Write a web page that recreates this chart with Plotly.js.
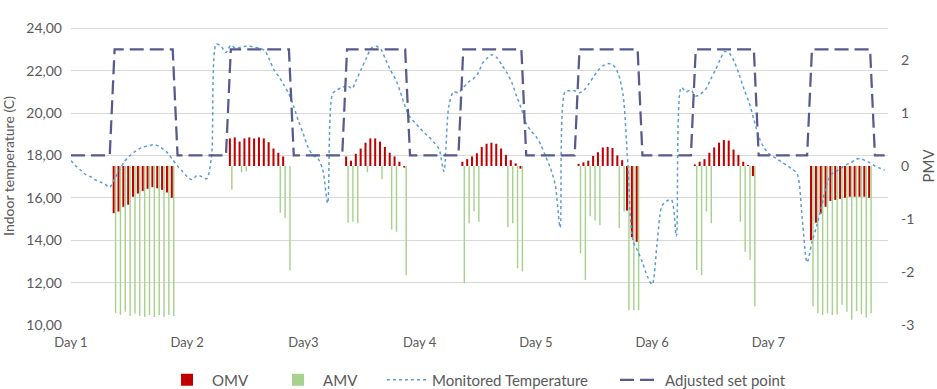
<!DOCTYPE html>
<html>
<head>
<meta charset="utf-8">
<script src="https://cdn.plot.ly/plotly-3.0.1.min.js"></script>
<style>
  html, body { margin: 0; padding: 0; background: #ffffff; }
  #chart { width: 937px; height: 389px; }
</style>
</head>
<body>
<div id="chart"></div>
<script>
// ---- Data ----
const dayLabels = ["Day 1", "Day 2", "Day3", "Day 4", "Day 5", "Day 6", "Day 7"];
const dayStartHours = [0, 24, 48, 72, 96, 120, 144];

// Monitored indoor temperature, one value per hour (hour 0 .. 168)
const monitoredTemperature = [
  17.75, 17.5, 17.3, 17.1, 17.0, 16.85, 16.75, 16.65, 16.5, 16.9, 17.3, 17.7, 17.95, 18.15, 18.3, 18.4, 18.45, 18.5, 18.45, 18.3, 18.1, 17.8, 17.5, 17.25,
  17.0, 16.85, 17.05, 17.0, 16.9, 17.9, 23.25, 23.15, 22.85, 23.2, 23.05, 23.1, 23.15, 23.15, 23.1, 23.05, 22.95, 22.5, 22.0, 21.7, 21.3, 20.9, 20.3, 19.6,
  19.0, 18.35, 18.0, 17.85, 17.3, 15.75, 20.9, 21.1, 21.2, 21.3, 21.15, 21.6, 22.1, 22.6, 23.05, 23.15, 23.0, 22.5, 22.0, 21.6, 21.0, 20.3, 19.8, 19.55,
  19.3, 19.05, 18.85, 18.6, 18.3, 17.25, 20.3, 21.0, 20.95, 21.2, 21.45, 21.6, 21.85, 22.35, 22.6, 22.75, 22.6, 22.25, 21.9, 21.45, 20.8, 20.2, 19.5, 19.15,
  18.9, 18.5, 17.95, 17.4, 16.6, 14.6, 21.0, 21.05, 21.05, 20.95, 21.1, 21.4, 21.75, 22.05, 22.25, 22.33, 22.25, 21.85, 20.85, 17.5, 14.0, 13.5, 12.95, 12.3,
  11.9, 13.8, 15.6, 15.85, 15.9, 14.2, 21.2, 21.0, 21.08, 20.8, 20.9, 21.1, 21.55, 22.0, 22.5, 22.9, 22.8, 22.4, 21.8, 21.1, 20.5, 19.7, 18.9, 18.4,
  18.1, 17.95, 17.8, 17.65, 17.5, 17.35, 17.1, 15.0, 12.95, 13.9, 14.7, 15.6, 16.6, 17.1, 17.25, 17.4, 17.55, 17.65, 17.8, 17.86, 17.75, 17.65, 17.5, 17.4,
  17.3
];

// Adjusted set point, one value per hour (hour 0 .. 168)
const adjustedSetPoint = [
  18,18,18,18,18,18,18,18,18,23,23,23,23,23,23,23,23,23,23,23,23,23,18,18,
  18,18,18,18,18,18,18,18,18,23,23,23,23,23,23,23,23,23,23,23,23,23,18,18,
  18,18,18,18,18,18,18,18,18,23,23,23,23,23,23,23,23,23,23,23,23,23,18,18,
  18,18,18,18,18,18,18,18,18,23,23,23,23,23,23,23,23,23,23,23,23,23,18,18,
  18,18,18,18,18,18,18,18,18,23,23,23,23,23,23,23,23,23,23,23,23,23,18,18,
  18,18,18,18,18,18,18,18,18,23,23,23,23,23,23,23,23,23,23,23,23,23,18,18,
  18,18,18,18,18,18,18,18,18,23,23,23,23,23,23,23,23,23,23,23,23,23,18,18,
  18
];

// Hours at which thermal votes were collected
const voteHours = [
  9,10,11,12,13,14,15,16,17,18,19,20,21,
  33,34,35,36,37,38,39,40,41,42,43,44,45,
  57,58,59,60,61,62,63,64,65,66,67,68,69,
  81,82,83,84,85,86,87,88,89,90,91,92,93,
  105,106,107,108,109,110,111,112,113,114,115,116,117,
  129,130,131,132,133,134,135,136,137,138,139,140,141,
  153,154,155,156,157,158,159,160,161,162,163,164,165
];

// OMV (red) on the PMV axis
const omv = [
  -0.89,-0.86,-0.77,-0.73,-0.58,-0.52,-0.47,-0.43,-0.40,-0.42,-0.45,-0.50,-0.60,
  0.52,0.54,0.46,0.52,0.54,0.52,0.54,0.52,0.45,0.33,0.25,0.18,0,
  0.18,0.10,0.23,0.33,0.44,0.52,0.52,0.46,0.36,0.25,0.18,0.08,-0.03,
  0.08,0.13,0.18,0.24,0.36,0.42,0.44,0.42,0.33,0.21,0.11,0.05,-0.05,
  0.04,0.07,0.10,0.19,0.26,0.35,0.36,0.34,0.20,0.11,-0.84,-1.34,-1.43,
  0.03,0.08,0.13,0.25,0.35,0.44,0.49,0.48,0.31,0.21,0.08,0.02,-0.19,
  -1.40,-1.07,-0.90,-0.77,-0.66,-0.64,-0.62,-0.60,-0.58,-0.58,-0.58,-0.58,-0.60
];

// AMV (green) on the PMV axis
const amv = [
  -2.78,-2.81,-2.75,-2.83,-2.79,-2.83,-2.85,-2.81,-2.85,-2.81,-2.85,-2.81,-2.83,
  -0.45,0,-0.12,-0.10,0,0,0,0,0,0,-0.88,-0.98,-1.97,
  -1.07,-1.05,-1.08,0,-0.12,0,0,-0.25,0,-1.20,-1.24,0,-2.06,
  -2.21,-1.08,-0.86,-1.05,0,0,0,0,0,-1.15,-1.08,-1.93,-1.99,
  -1.65,-2.15,-0.95,-1.03,-1.12,0,0,0,-1.17,-0.86,-2.72,-2.72,-2.72,
  -1.96,-2.06,-0.86,-1.08,0,0,0,0,0,-1.05,-1.62,-1.77,-2.65,
  -2.65,-2.78,-2.81,-2.78,-2.81,-2.80,-2.62,-2.75,-2.90,-2.74,-2.80,-2.86,-2.78
];

const tempTicks = [10, 12, 14, 16, 18, 20, 22, 24];
const pmvTicks = [-3, -2, -1, 0, 1, 2, 3];
const pmvTickText = ["-3", "-2", "-1", "0", "1", "2", "3"];

const hours = monitoredTemperature.map((_, i) => i);

// ---- Chart ----
const FONT = "Lato, 'Open Sans', sans-serif";
const GREY = "#595959";

const traces = [
  {
    name: "OMV", type: "bar", x: voteHours, y: omv,
    xaxis: "x", yaxis: "y", legend: "legend",
    marker: { color: "#C00000", line: { width: 0 } },
    width: 0.42, offset: -0.4
  },
  {
    name: "AMV", type: "bar", x: voteHours, y: amv,
    xaxis: "x", yaxis: "y", legend: "legend2",
    marker: { color: "#A9D18E", line: { width: 0 } },
    width: 0.3, offset: 0.06
  },
  {
    name: "Monitored Temperature", type: "scatter", mode: "lines",
    x: hours, y: monitoredTemperature,
    xaxis: "x", yaxis: "y2", legend: "legend3",
    line: { color: "#5B9BD5", width: 1.5, dash: "dot", shape: "spline", smoothing: 0.8 }
  },
  {
    name: "Adjusted set point", type: "scatter", mode: "lines",
    x: hours, y: adjustedSetPoint,
    xaxis: "x", yaxis: "y2", legend: "legend4",
    line: { color: "#565A8C", width: 2.25, dash: "14px,6px" }
  }
];

function legendAt(xFrac) {
  return {
    orientation: "h", x: xFrac, xanchor: "left", y: -0.173, yanchor: "middle",
    font: { family: FONT, size: 15, color: GREY },
    itemwidth: 40, bgcolor: "rgba(0,0,0,0)", borderwidth: 0
  };
}

const layout = {
  width: 937, height: 389,
  margin: { l: 71, r: 49, t: 7, b: 64, pad: 0, autoexpand: false },
  paper_bgcolor: "#ffffff", plot_bgcolor: "#ffffff",
  font: { family: FONT, size: 14, color: GREY },
  separators: ",.",
  showlegend: true,
  barmode: "overlay",
  legend: legendAt(0.1114),
  legend2: legendAt(0.2473),
  legend3: legendAt(0.3807),
  legend4: legendAt(0.6659),
  xaxis: {
    range: [0, 168.7],
    tickmode: "array", tickvals: dayStartHours, ticktext: dayLabels,
    showgrid: false, zeroline: false, showline: false, ticks: "",
    ticklabelstandoff: 8,
    tickfont: { family: FONT, size: 13, color: GREY }
  },
  yaxis: {
    side: "right",
    range: [-3, 3],
    tickmode: "array", tickvals: pmvTicks, ticktext: pmvTickText,
    showgrid: false, zeroline: false, showline: false, ticks: "",
    ticklabelstandoff: 12,
    tickfont: { family: FONT, size: 14, color: GREY },
    title: { text: "PMV", font: { family: FONT, size: 15, color: GREY }, standoff: 12 }
  },
  yaxis2: {
    overlaying: "y", side: "left",
    range: [10, 25],
    tickmode: "array", tickvals: tempTicks, tickformat: ".2f",
    showgrid: true, gridcolor: "#D9D9D9", gridwidth: 1,
    zeroline: false, showline: false, ticks: "",
    ticklabelstandoff: 8,
    tickfont: { family: FONT, size: 14, color: GREY },
    title: { text: "Indoor temperature (C)", font: { family: FONT, size: 14, color: GREY }, standoff: 8 }
  }
};

Plotly.newPlot("chart", traces, layout, { displayModeBar: false, staticPlot: true });
</script>
</body>
</html>
